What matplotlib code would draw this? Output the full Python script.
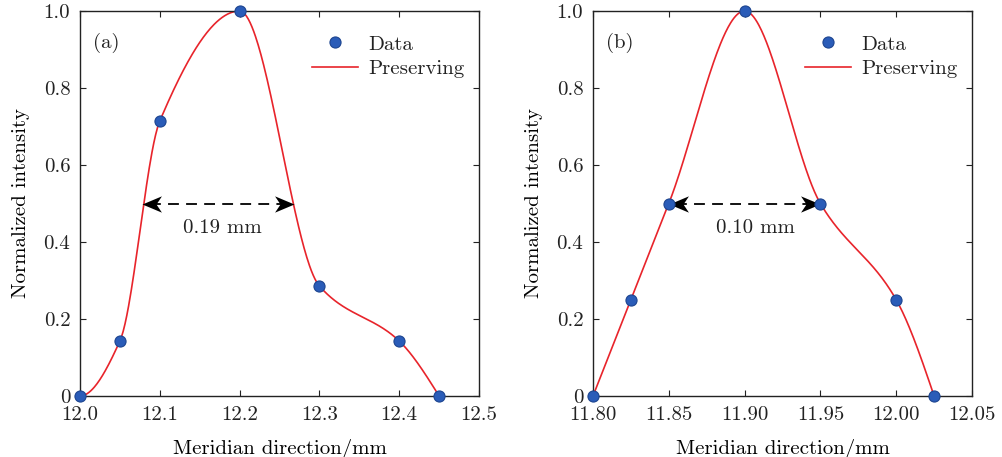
import numpy as np
import matplotlib
matplotlib.use('Agg')
import matplotlib.pyplot as plt
from matplotlib.path import Path

plt.rcParams['font.family'] = 'serif'
plt.rcParams['font.serif'] = ['cmr10', 'DejaVu Serif']
plt.rcParams['mathtext.fontset'] = 'cm'
plt.rcParams['axes.formatter.use_mathtext'] = True
plt.rcParams['font.size'] = 15
plt.rcParams['text.color'] = '#222222'
plt.rcParams['xtick.color'] = '#222222'
plt.rcParams['ytick.color'] = '#222222'

# measured profiles along the meridian direction
x_a = [12.0, 12.05, 12.1, 12.2, 12.3, 12.4, 12.45]
y_a = [0.0, 1/7, 5/7, 1.0, 2/7, 1/7, 0.0]
x_b = [11.80, 11.825, 11.85, 11.90, 11.95, 12.00, 12.025]
y_b = [0.0, 0.25, 0.5, 1.0, 0.5, 0.25, 0.0]

# full width at half maximum
fwhm_a = 0.19
fwhm_b = 0.10
fwhm_a_start = 12.078
fwhm_b_start = 11.85

xticks_a = [12.0, 12.1, 12.2, 12.3, 12.4, 12.5]
xticks_b = [11.80, 11.85, 11.90, 11.95, 12.00, 12.05]
yticks = [0, 0.2, 0.4, 0.6, 0.8, 1.0]
yticklabels = ['0', '0.2', '0.4', '0.6', '0.8', '1.0']

# stealth arrow heads, tip at the origin
head_left = Path([(0, 0), (1.0, 0.42), (0.72, 0), (1.0, -0.42), (0, 0)],
                 [Path.MOVETO, Path.LINETO, Path.LINETO, Path.LINETO,
                  Path.CLOSEPOLY])
head_right = Path([(0, 0), (-1.0, 0.42), (-0.72, 0), (-1.0, -0.42), (0, 0)],
                  [Path.MOVETO, Path.LINETO, Path.LINETO, Path.LINETO,
                   Path.CLOSEPOLY])


def pchip_slopes(x, y):
    x = np.asarray(x, float)
    y = np.asarray(y, float)
    h = np.diff(x)
    delta = np.diff(y) / h
    n = len(x)
    d = np.zeros(n)
    for k in range(1, n - 1):
        if delta[k - 1] * delta[k] > 0:
            w1 = 2 * h[k] + h[k - 1]
            w2 = h[k] + 2 * h[k - 1]
            d[k] = (w1 + w2) / (w1 / delta[k - 1] + w2 / delta[k])
    # end slopes (three-point, shape preserving)
    def end_slope(h0, h1, d0, d1):
        s = ((2 * h0 + h1) * d0 - h0 * d1) / (h0 + h1)
        if np.sign(s) != np.sign(d0):
            s = 0.0
        elif np.sign(d0) != np.sign(d1) and abs(s) > abs(3 * d0):
            s = 3 * d0
        return s
    d[0] = end_slope(h[0], h[1], delta[0], delta[1])
    d[-1] = end_slope(h[-1], h[-2], delta[-1], delta[-2])
    return d


def pchip(x, y, xq):
    x = np.asarray(x, float)
    y = np.asarray(y, float)
    d = pchip_slopes(x, y)
    idx = np.clip(np.searchsorted(x, xq) - 1, 0, len(x) - 2)
    h = x[idx + 1] - x[idx]
    t = (xq - x[idx]) / h
    h00 = 2 * t**3 - 3 * t**2 + 1
    h10 = t**3 - 2 * t**2 + t
    h01 = -2 * t**3 + 3 * t**2
    h11 = t**3 - t**2
    return h00 * y[idx] + h10 * h * d[idx] + h01 * y[idx + 1] + h11 * h * d[idx + 1]


def draw_panel(ax, x, y, xticks, xlim, tag, w_start, w, wlabel, text_x):
    xs = np.linspace(x[0], x[-1], 400)
    ax.plot(x, y, linestyle='none', marker='o', ms=8, color='#2a5cb8',
            mec='#1d4590', mew=0.8, label='Data', zorder=3, clip_on=False)
    ax.plot(xs, pchip(x, y, xs), color='#e8242b', lw=1.2, label='Preserving')
    # double arrow marking the width at half maximum
    pad = 0.01 * (xlim[1] - xlim[0]) / 0.5
    ax.plot([w_start + pad, w_start + w - pad], [0.5, 0.5],
            color='black', lw=1.3, linestyle=(0, (6, 4)))
    ax.plot(w_start, 0.5, marker=head_left, ms=28, color='black', mew=0)
    ax.plot(w_start + w, 0.5, marker=head_right, ms=28, color='black', mew=0)
    ax.text(text_x, 0.435, wlabel, ha='center', va='center', fontsize=15)
    ax.text(0.033, 0.917, tag, transform=ax.transAxes, ha='left', va='center')
    ax.set_xlim(xlim)
    ax.set_ylim(0, 1.0)
    ax.set_xticks(xticks)
    ax.set_yticks(yticks)
    ax.set_yticklabels(yticklabels)
    ax.tick_params(direction='in', top=True, right=True, length=4,
                   labelsize=15, pad=7)
    ax.set_xlabel('Meridian direction/mm', labelpad=11)
    ax.set_ylabel('Normalized intensity', labelpad=10)
    for s in ax.spines.values():
        s.set_linewidth(1.0)
        s.set_color('#222222')
    handles, labels = ax.get_legend_handles_labels()
    ax.legend(handles[:2], labels[:2], loc='upper right', frameon=False,
              handlelength=2.2, bbox_to_anchor=(1.0, 0.975), borderaxespad=0.3,
              handletextpad=0.5, labelspacing=0.28, fontsize=15)


fig = plt.figure(figsize=(10.02, 4.57), dpi=100)
ax1 = fig.add_axes([80 / 1002, 61 / 457, 399 / 1002, 385 / 457])
ax2 = fig.add_axes([593 / 1002, 61 / 457, 379 / 1002, 385 / 457])

draw_panel(ax1, x_a, y_a, xticks_a, (12.0, 12.5), '(a)',
           fwhm_a_start, fwhm_a, '0.19 mm', 12.178)
ax1.set_xticklabels(['12.0', '12.1', '12.2', '12.3', '12.4', '12.5'])
draw_panel(ax2, x_b, y_b, xticks_b, (11.80, 12.05), '(b)',
           fwhm_b_start, fwhm_b, '0.10 mm', 11.907)
ax2.set_xticklabels(['11.80', '11.85', '11.90', '11.95', '12.00', '12.05'])

fig.savefig('out.png', dpi=100)
